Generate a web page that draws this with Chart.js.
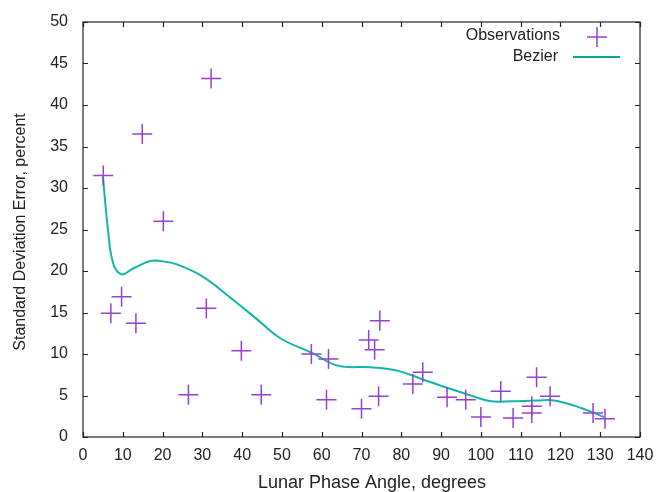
<!DOCTYPE html>
<html lang="en">
<head>
    <meta charset="UTF-8">
    <title>Lunar Phase Angle vs Standard Deviation Error</title>
    <script src="https://cdn.jsdelivr.net/npm/chart.js"></script>
    <style>
        body { margin: 0; background: #ffffff; }
        #wrap { width: 656px; height: 492px; }
    </style>
</head>
<body>
    <div id="wrap"><canvas id="chart" width="656" height="492"></canvas></div>

    <script>
        // Observations (lunar phase angle, deg / std. deviation error, %)
        const obsX = [5.1, 7.0, 9.7, 13.3, 14.9, 20.2, 26.5, 31.0, 32.2, 39.8, 44.8, 57.4, 61.7, 61.2, 70, 71.8,
                      73.3, 74.6, 74.3, 82.9, 85.4, 91.5, 96.2, 100, 105, 108.1, 114, 112.8, 112.8, 117.4, 128.2, 131.2];
        const obsY = [31.5, 14.9, 16.9, 13.7, 36.5, 26.0, 5.1, 15.5, 43.2, 10.4, 5.1, 10.0, 9.4, 4.5, 3.4, 11.7,
                      10.5, 14.0, 4.9, 6.4, 7.8, 4.8, 4.5, 2.4, 5.5, 2.3, 7.2, 3.7, 2.9, 4.9, 2.9, 2.2];

        // Bezier smoothed curve
        const bezX = [5, 6.3, 7.6, 9.7, 12.6, 16.9, 19.4, 23.6, 30.2, 37, 43.7, 49.6, 57.7, 64, 72.3, 79,
                      85.6, 91.7, 97.5, 102.5, 107.6, 114, 118.5, 125.2, 131];
        const bezY = [31.4, 24.9, 20.9, 19.6, 20.3, 21.2, 21.2, 20.8, 19.3, 16.8, 14.2, 11.9, 10.1, 8.6, 8.4, 8.0,
                      6.9, 5.9, 5.0, 4.3, 4.3, 4.4, 4.4, 3.5, 2.4];

        const xTicks = [0, 10, 20, 30, 40, 50, 60, 70, 80, 90, 100, 110, 120, 130, 140];
        const yTicks = [0, 5, 10, 15, 20, 25, 30, 35, 40, 45, 50];

        const seriesNames = ['Observations', 'Bezier'];
        const xTitle = 'Lunar Phase Angle, degrees';
        const yTitle = 'Standard Deviation Error, percent';
        const purple = '#9440d0';
        const teal = '#12b5a8';
        const font = 'Liberation Sans, Arial, sans-serif';

        const toPoints = (xs, ys) => xs.map((x, i) => ({ x: x, y: ys[i] }));

        // gnuplot-like frame with inward ticks on all sides, axis titles and legend
        const framePlugin = {
            id: 'frame',
            afterDraw(chart) {
                const ctx = chart.ctx;
                const a = chart.chartArea;
                const xs = chart.scales.x, ys = chart.scales.y;
                ctx.save();
                ctx.strokeStyle = '#222';
                ctx.lineWidth = 1.2;
                ctx.strokeRect(a.left, a.top, a.right - a.left, a.bottom - a.top);
                ctx.beginPath();
                const t = 5;
                xTicks.forEach(v => {
                    const px = Math.round(xs.getPixelForValue(v)) + 0.5;
                    ctx.moveTo(px, a.bottom); ctx.lineTo(px, a.bottom - t);
                    ctx.moveTo(px, a.top); ctx.lineTo(px, a.top + t);
                });
                yTicks.forEach(v => {
                    const py = Math.round(ys.getPixelForValue(v)) + 0.5;
                    ctx.moveTo(a.left, py); ctx.lineTo(a.left + t, py);
                    ctx.moveTo(a.right, py); ctx.lineTo(a.right - t, py);
                });
                ctx.stroke();

                // axis titles
                ctx.fillStyle = '#222';
                ctx.textAlign = 'center';
                ctx.textBaseline = 'middle';
                ctx.font = '18px ' + font;
                ctx.fillText(xTitle, 372, 483);
                ctx.save();
                ctx.translate(21, 232);
                ctx.rotate(-Math.PI / 2);
                ctx.font = '16px ' + font;
                ctx.fillText(yTitle, 0, 0);
                ctx.restore();

                // legend
                ctx.font = '16px ' + font;
                ctx.textAlign = 'right';
                ctx.fillText(seriesNames[0], 560, 36);
                ctx.fillText(seriesNames[1], 558, 57);
                ctx.strokeStyle = purple;
                ctx.lineWidth = 1.5;
                ctx.beginPath();
                ctx.moveTo(587, 37); ctx.lineTo(607, 37);
                ctx.moveTo(597, 27); ctx.lineTo(597, 47);
                ctx.stroke();
                ctx.strokeStyle = '#0aa88e';
                ctx.lineWidth = 2;
                ctx.beginPath();
                ctx.moveTo(573, 57); ctx.lineTo(620, 57);
                ctx.stroke();
                ctx.restore();
            }
        };

        const config = {
            type: 'scatter',
            data: {
                datasets: [{
                    label: seriesNames[0],
                    data: toPoints(obsX, obsY),
                    pointStyle: 'cross',
                    pointRadius: 10,
                    pointBorderWidth: 1.5,
                    borderColor: purple,
                    backgroundColor: purple,
                    order: 1
                }, {
                    label: seriesNames[1],
                    type: 'line',
                    data: toPoints(bezX, bezY),
                    borderColor: teal,
                    borderWidth: 2,
                    pointRadius: 0,
                    tension: 0.4,
                    fill: false,
                    order: 2
                }]
            },
            options: {
                responsive: false,
                animation: false,
                layout: { padding: { top: 22, right: 16, left: 0, bottom: 0 } },
                plugins: {
                    legend: { display: false },
                    tooltip: { enabled: false }
                },
                scales: {
                    x: {
                        type: 'linear',
                        min: 0, max: 140,
                        grid: { display: false, drawTicks: false },
                        border: { display: false },
                        afterBuildTicks: s => { s.ticks = xTicks.map(v => ({ value: v })); },
                        afterFit: s => { s.height = 492 - 437; s.paddingLeft = 0; s.paddingRight = 0; },
                        ticks: { color: '#222', font: { family: font, size: 16 }, padding: 9, maxRotation: 0 }
                    },
                    y: {
                        type: 'linear',
                        min: 0, max: 50,
                        grid: { display: false, drawTicks: false },
                        border: { display: false },
                        afterBuildTicks: s => { s.ticks = yTicks.map(v => ({ value: v })); },
                        afterFit: s => { s.width = 83; s.paddingTop = 0; s.paddingBottom = 0; },
                        ticks: { color: '#222', font: { family: font, size: 16 }, padding: 15 }
                    }
                }
            },
            plugins: [framePlugin]
        };

        new Chart(document.getElementById('chart').getContext('2d'), config);
    </script>
</body>
</html>
